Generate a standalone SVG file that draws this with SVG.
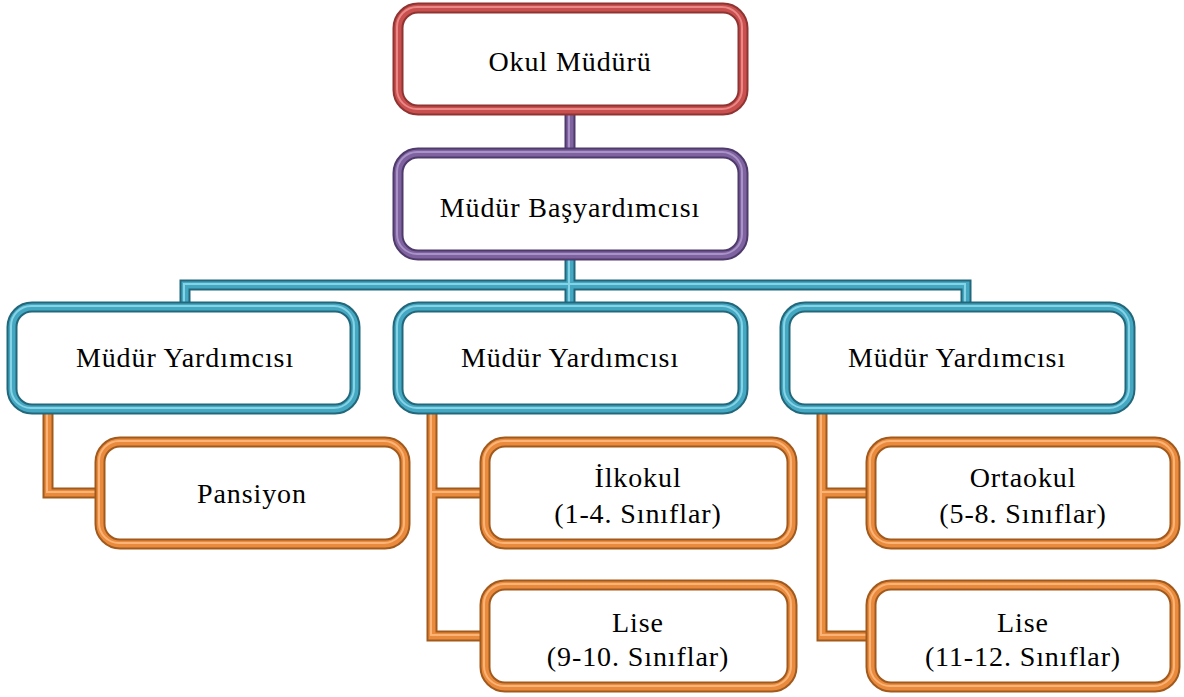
<svg xmlns="http://www.w3.org/2000/svg" width="1184" height="697" viewBox="0 0 1184 697">
<style>
.t{font-family:"Liberation Serif","DejaVu Serif",serif;font-size:28px;letter-spacing:0.9px;fill:#000;text-anchor:middle;dominant-baseline:central}
.box{fill:#fff}
.o{fill:none;stroke-width:11}
.m{fill:none;stroke-width:7}
.h{fill:none;stroke-width:2}
.red .o{stroke:#8e3432}.red .m{stroke:#c9504e}.red .h{stroke:#e98886}
.pur .o{stroke:#4e3a6b}.pur .m{stroke:#7f62a0}.pur .h{stroke:#a892c6}
.tea .o{stroke:#23677a}.tea .m{stroke:#45a8c3}.tea .h{stroke:#86d3e6}
.ora .o{stroke:#a05a1e}.ora .m{stroke:#ea8a3c}.ora .h{stroke:#fbb478}
.c{fill:none;stroke-linejoin:miter;stroke-linecap:butt}
</style>
<g id="connectors">
<g class="pur">
<path class="c o" d="M570 110V153"/><path class="c m" d="M570 110V153"/><path class="c h" d="M569 110V153"/>
</g>
<g class="tea">
<path class="c o" d="M570 255V307M185 307V285H966V307"/>
<path class="c m" d="M570 255V307M185 307V285H966V307"/>
<path class="c h" d="M569 255V307M184 307V284H965V307"/>
</g>
<g class="ora">
<path class="c o" d="M48 409V493H100M432 409V636H485M432 493H485M822 409V636H871M822 493H871"/>
<path class="c m" d="M48 409V493H100M432 409V636H485M432 493H485M822 409V636H871M822 493H871"/>
<path class="c h" d="M47 409V492H100M431 409V635H485M432 492H485M821 409V635H871M822 492H871"/>
</g>
</g>
<g id="n1" class="red">
<rect class="box" x="398" y="8" width="345" height="102" rx="20"/>
<rect class="o" x="398" y="8" width="345" height="102" rx="20"/>
<rect class="m" x="398" y="8" width="345" height="102" rx="20"/>
<rect class="h" x="397" y="7" width="345" height="102" rx="20"/>
<text class="t" x="570" y="61">Okul Müdürü</text>
</g>
<g id="n2" class="pur">
<rect class="box" x="398" y="153" width="345" height="102" rx="20"/>
<rect class="o" x="398" y="153" width="345" height="102" rx="20"/>
<rect class="m" x="398" y="153" width="345" height="102" rx="20"/>
<rect class="h" x="397" y="152" width="345" height="102" rx="20"/>
<text class="t" x="570" y="207">Müdür Başyardımcısı</text>
</g>
<g id="n3" class="tea">
<rect class="box" x="12" y="307" width="343" height="102" rx="20"/>
<rect class="o" x="12" y="307" width="343" height="102" rx="20"/>
<rect class="m" x="12" y="307" width="343" height="102" rx="20"/>
<rect class="h" x="11" y="306" width="343" height="102" rx="20"/>
<text class="t" x="185" y="357">Müdür Yardımcısı</text>
</g>
<g id="n4" class="tea">
<rect class="box" x="398" y="307" width="345" height="102" rx="20"/>
<rect class="o" x="398" y="307" width="345" height="102" rx="20"/>
<rect class="m" x="398" y="307" width="345" height="102" rx="20"/>
<rect class="h" x="397" y="306" width="345" height="102" rx="20"/>
<text class="t" x="570" y="357">Müdür Yardımcısı</text>
</g>
<g id="n5" class="tea">
<rect class="box" x="785" y="307" width="345" height="102" rx="20"/>
<rect class="o" x="785" y="307" width="345" height="102" rx="20"/>
<rect class="m" x="785" y="307" width="345" height="102" rx="20"/>
<rect class="h" x="784" y="306" width="345" height="102" rx="20"/>
<text class="t" x="957" y="357">Müdür Yardımcısı</text>
</g>
<g id="n6" class="ora">
<rect class="box" x="100" y="442" width="305" height="102" rx="20"/>
<rect class="o" x="100" y="442" width="305" height="102" rx="20"/>
<rect class="m" x="100" y="442" width="305" height="102" rx="20"/>
<rect class="h" x="99" y="441" width="305" height="102" rx="20"/>
<text class="t" x="252" y="493">Pansiyon</text>
</g>
<g id="n7" class="ora">
<rect class="box" x="485" y="442" width="307" height="102" rx="20"/>
<rect class="o" x="485" y="442" width="307" height="102" rx="20"/>
<rect class="m" x="485" y="442" width="307" height="102" rx="20"/>
<rect class="h" x="484" y="441" width="307" height="102" rx="20"/>
<text class="t" x="638" y="477">İlkokul</text>
<text class="t" x="638" y="513">(1-4. Sınıflar)</text>
</g>
<g id="n8" class="ora">
<rect class="box" x="485" y="585" width="307" height="102" rx="20"/>
<rect class="o" x="485" y="585" width="307" height="102" rx="20"/>
<rect class="m" x="485" y="585" width="307" height="102" rx="20"/>
<rect class="h" x="484" y="584" width="307" height="102" rx="20"/>
<text class="t" x="638" y="622">Lise</text>
<text class="t" x="638" y="656">(9-10. Sınıflar)</text>
</g>
<g id="n9" class="ora">
<rect class="box" x="871" y="442" width="304" height="102" rx="20"/>
<rect class="o" x="871" y="442" width="304" height="102" rx="20"/>
<rect class="m" x="871" y="442" width="304" height="102" rx="20"/>
<rect class="h" x="870" y="441" width="304" height="102" rx="20"/>
<text class="t" x="1023" y="477">Ortaokul</text>
<text class="t" x="1023" y="513">(5-8. Sınıflar)</text>
</g>
<g id="n10" class="ora">
<rect class="box" x="871" y="585" width="304" height="102" rx="20"/>
<rect class="o" x="871" y="585" width="304" height="102" rx="20"/>
<rect class="m" x="871" y="585" width="304" height="102" rx="20"/>
<rect class="h" x="870" y="584" width="304" height="102" rx="20"/>
<text class="t" x="1023" y="622">Lise</text>
<text class="t" x="1023" y="656">(11-12. Sınıflar)</text>
</g>
</svg>
